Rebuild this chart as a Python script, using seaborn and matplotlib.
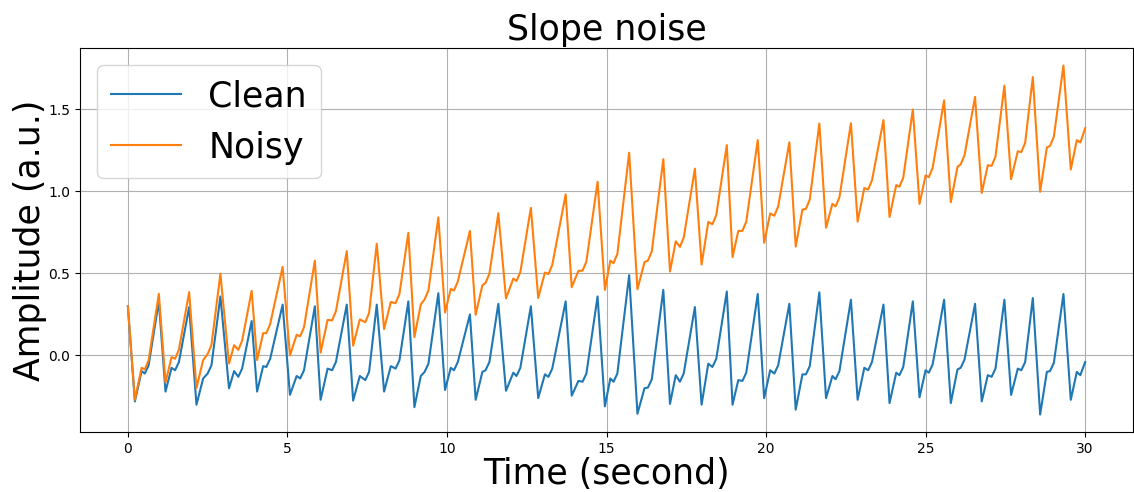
import matplotlib
matplotlib.use("Agg")
import matplotlib.pyplot as plt
import seaborn as sns
import pandas as pd

time_s = [0.00,
          0.22, 0.43, 0.53, 0.65, 0.97,
          1.18, 1.37, 1.48, 1.60, 1.92,
          2.15, 2.36, 2.50, 2.62, 2.90,
          3.17, 3.33, 3.46, 3.58, 3.88,
          4.05, 4.24, 4.34, 4.46, 4.85,
          5.08, 5.29, 5.40, 5.52, 5.86,
          6.04, 6.26, 6.40, 6.52, 6.86,
          7.06, 7.27, 7.44, 7.56, 7.80,
          8.03, 8.24, 8.39, 8.51, 8.79,
          8.98, 9.18, 9.30, 9.42, 9.73,
          9.94, 10.12, 10.22, 10.34, 10.72,
          10.90, 11.11, 11.21, 11.33, 11.61,
          11.85, 12.08, 12.18, 12.30, 12.63,
          12.86, 13.07, 13.18, 13.30, 13.72,
          13.91, 14.12, 14.25, 14.37, 14.72,
          14.95, 15.12, 15.22, 15.34, 15.71,
          15.97, 16.19, 16.30, 16.42, 16.78,
          16.99, 17.17, 17.30, 17.42, 17.77,
          17.98, 18.19, 18.32, 18.44, 18.77,
          18.95, 19.13, 19.26, 19.38, 19.74,
          19.94, 20.13, 20.26, 20.38, 20.73,
          20.93, 21.14, 21.25, 21.37, 21.67,
          21.88, 22.08, 22.18, 22.30, 22.66,
          22.87, 23.08, 23.20, 23.32, 23.68,
          23.87, 24.08, 24.18, 24.30, 24.60,
          24.81, 25.00, 25.10, 25.22, 25.58,
          25.79, 26.00, 26.10, 26.22, 26.55,
          26.76, 26.95, 27.07, 27.19, 27.47,
          27.68, 27.89, 28.00, 28.12, 28.36,
          28.59, 28.80, 28.90, 29.02, 29.32,
          29.55, 29.74, 29.85, 30.00]

clean = [0.30,
         -0.28, -0.095, -0.11, -0.06, 0.33,
         -0.22, -0.075, -0.09, -0.04, 0.295,
         -0.30, -0.14, -0.11, -0.06, 0.36,
         -0.20, -0.095, -0.13, -0.08, 0.21,
         -0.22, -0.065, -0.07, -0.02, 0.31,
         -0.24, -0.125, -0.14, -0.09, 0.30,
         -0.27, -0.08, -0.09, -0.04, 0.31,
         -0.275, -0.125, -0.15, -0.10, 0.31,
         -0.22, -0.065, -0.08, -0.03, 0.33,
         -0.315, -0.125, -0.10, -0.05, 0.38,
         -0.21, -0.075, -0.09, -0.04, 0.25,
         -0.27, -0.10, -0.09, -0.04, 0.315,
         -0.215, -0.105, -0.125, -0.075, 0.30,
         -0.26, -0.115, -0.13, -0.08, 0.33,
         -0.245, -0.155, -0.16, -0.11, 0.36,
         -0.31, -0.14, -0.16, -0.11, 0.49,
         -0.355, -0.20, -0.195, -0.145, 0.40,
         -0.295, -0.12, -0.16, -0.11, 0.295,
         -0.30, -0.05, -0.07, -0.02, 0.39,
         -0.30, -0.15, -0.155, -0.105, 0.375,
         -0.26, -0.09, -0.11, -0.06, 0.315,
         -0.33, -0.115, -0.115, -0.065, 0.385,
         -0.26, -0.125, -0.145, -0.095, 0.34,
         -0.27, -0.075, -0.09, -0.04, 0.31,
         -0.29, -0.105, -0.12, -0.07, 0.33,
         -0.255, -0.09, -0.105, -0.055, 0.34,
         -0.29, -0.085, -0.075, -0.025, 0.315,
         -0.28, -0.12, -0.13, -0.08, 0.34,
         -0.24, -0.08, -0.09, -0.04, 0.35,
         -0.36, -0.10, -0.095, -0.045, 0.375,
         -0.27, -0.10, -0.12, -0.04]

noisy = [0.300,
         -0.270, -0.075, -0.085, -0.029, 0.376,
         -0.164, -0.010, -0.020, 0.036, 0.386,
         -0.198, -0.028, 0.009, 0.064, 0.498,
         -0.049, 0.063, 0.034, 0.090, 0.394,
         -0.028, 0.136, 0.136, 0.192, 0.540,
         0.001, 0.126, 0.117, 0.172, 0.578,
         0.017, 0.217, 0.214, 0.270, 0.636,
         0.060, 0.220, 0.203, 0.259, 0.681,
         0.161, 0.326, 0.319, 0.374, 0.748,
         0.112, 0.311, 0.342, 0.397, 0.842,
         0.262, 0.406, 0.396, 0.451, 0.759,
         0.248, 0.428, 0.443, 0.498, 0.867,
         0.348, 0.469, 0.454, 0.509, 0.900,
         0.351, 0.506, 0.496, 0.552, 0.982,
         0.416, 0.516, 0.517, 0.573, 1.059,
         0.400, 0.578, 0.563, 0.619, 1.236,
         0.404, 0.569, 0.579, 0.635, 1.197,
         0.512, 0.696, 0.662, 0.718, 1.139,
         0.554, 0.814, 0.800, 0.856, 1.282,
         0.600, 0.759, 0.760, 0.816, 1.313,
         0.687, 0.866, 0.852, 0.908, 1.300,
         0.664, 0.889, 0.894, 0.950, 1.414,
         0.779, 0.924, 0.909, 0.964, 1.416,
         0.816, 1.021, 1.012, 1.068, 1.435,
         0.844, 1.039, 1.029, 1.084, 1.499,
         0.924, 1.098, 1.087, 1.143, 1.555,
         0.935, 1.150, 1.165, 1.221, 1.576,
         0.991, 1.160, 1.156, 1.212, 1.645,
         1.075, 1.245, 1.240, 1.296, 1.697,
         0.998, 1.268, 1.278, 1.334, 1.768,
         1.134, 1.313, 1.298, 1.385]

series_names = ["Clean", "Noisy"]
title = "Slope noise"
xlabel = "Time (second)"
ylabel = "Amplitude (a.u.)"

df = pd.DataFrame({"t": time_s, "Clean": clean, "Noisy": noisy})

fig = plt.figure(figsize=(11.34, 4.92), dpi=100)
ax = fig.add_axes([80 / 1134, 1 - 432 / 492, 1053 / 1134, 384 / 492])

colors = ["#1f77b4", "#ff7f0e"]
for name, c in zip(series_names, colors):
    sns.lineplot(data=df, x="t", y=name, ax=ax, color=c, linewidth=1.5,
                 label=name, estimator=None, sort=False)

ax.grid(True, color="#b0b0b0", linewidth=0.8)
ax.set_axisbelow(True)
ax.set_title(title, fontsize=25)
ax.set_xlabel(xlabel, fontsize=25, labelpad=1)
ax.set_ylabel(ylabel, fontsize=25, labelpad=1)
ax.tick_params(labelsize=10)
ax.legend(fontsize=25, loc="upper left")

fig.savefig("out.png", dpi=100)
